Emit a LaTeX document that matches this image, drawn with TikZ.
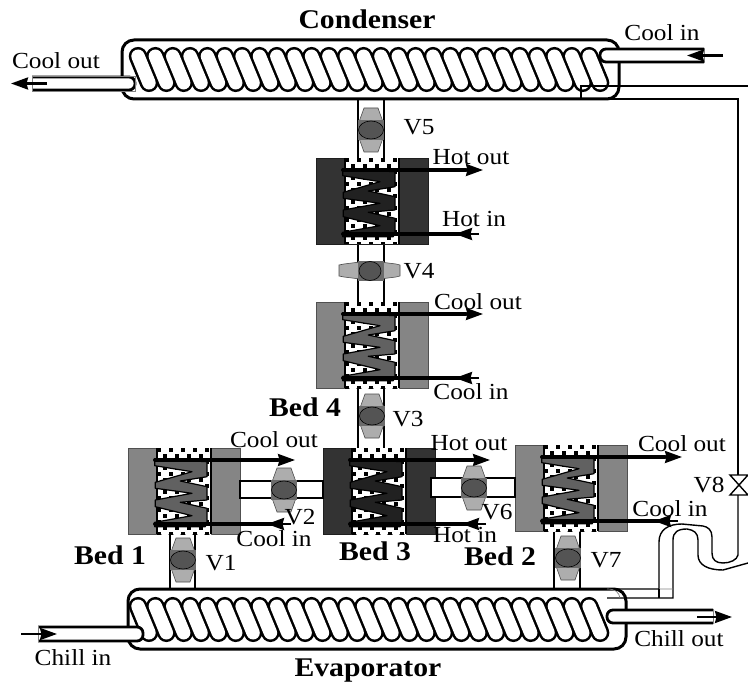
\documentclass[tikz,border=0pt]{standalone}
\usepackage{fontspec}
\setmainfont{Liberation Serif}[FakeStretch=1.1]
\usetikzlibrary{arrows.meta,positioning,calc}
\definecolor{cshelldark}{gray}{0.2}
\definecolor{cshellgrey}{gray}{0.52}
\definecolor{cfindark}{gray}{0.13}
\definecolor{cfingrey}{gray}{0.38}
\definecolor{cwing}{gray}{0.68}
\definecolor{cseat}{gray}{0.42}
\definecolor{cball}{gray}{0.33}
\tikzset{
  lbl/.style={inner sep=0pt, font=\fontsize{23}{23}\selectfont},
  blbl/.style={inner sep=0pt, font=\fontsize{27}{27}\selectfont\bfseries},
  shellbox/.style={draw=black, line width=3pt, rounded corners=12pt},
  pipewall/.style={draw=black, line width=2.8pt},
  thinpipe/.style={draw=black, line width=1.4pt},
  tubewall/.style={draw=black, fill=white, line width=2.8pt, rounded corners=6pt},
  flowtip/.style={-{Stealth[length=17pt,width=12pt,inset=1.5pt]}, line width=2.4pt},
}
% one heat exchanger bed, origin at its upper left corner
\newcommand{\drawbed}[4]{%
  \begin{scope}[shift={(#1,#2)}]
    \fill[#3] (0,0) rectangle (112,86);
    \draw[#3!60!black, line width=0.8pt] (0,0) rectangle (112,86);
    \fill[white] (29,0) rectangle (83,86);
    \begin{scope}
      \clip (29,0) rectangle (83,86);
      \foreach \r in {0,...,14}{
        \foreach \c in {0,...,9}{
          \pgfmathtruncatemacro{\odd}{mod(\r+\c,2)}
          \ifnum\odd=0
            \fill[black] ({29+\c*6},{\r*6}) rectangle ++(4.4,4.4);
          \else
            \fill[white] ({31+\c*6},{2+\r*6}) circle (3.6);
          \fi
        }
      }
    \end{scope}
    \draw[black, line width=1.2pt] (29,0) -- (29,86) (83,0) -- (83,86);
    \draw[draw=black, line width=1.2pt, fill=#4, line join=round] (26.7,11) -- (79,13.7) -- (79,28.7) -- (52.3,33) -- (79,38.7)
      -- (79,52) -- (52.3,54.3) -- (79,60.3) -- (79,73.7) -- (77.3,78.7) -- (26.7,78.7) -- (26.7,74.3)
      -- (64,67.7) -- (27.3,58.7) -- (27.3,52) -- (64,45.3) -- (27.3,40.3) -- (27.3,34.3) -- (64,23.7) -- (26.7,17.7) -- cycle;
    \draw[black, line width=4pt, line cap=round] (27,12) -- (150,12);
    \draw[flowtip] (140,12) -- (167,12);
    \draw[black, line width=4pt, line cap=round] (27,76) -- (148,76);
    \draw[flowtip] (163,76) -- (139,76);
  \end{scope}}
% coil inside a shell, x0 is the first turn and y0 the top of the turns
\newcommand{\drawcoil}[2]{%
  \foreach \i in {0,...,26}{
    \draw[black, line width=18.5pt, line cap=round] ({#1+8+\i*17.35},{#2+9.2}) -- ({#1+19+\i*17.35},{#2+35.8});
  }
  \foreach \i in {0,...,26}{
    \draw[white, line width=13.4pt, line cap=round] ({#1+8+\i*17.35},{#2+9.2}) -- ({#1+19+\i*17.35},{#2+35.8});
  }}
% valve body with hexagonal wings
\newcommand{\drawvalve}[3]{%
  \begin{scope}[shift={(#1,#2)}, rotate=#3]
    \draw[cseat!70!black, line width=0.6pt, fill=cwing] (-7,-22) -- (7,-22) -- (12,-8) -- (12,8) -- (7,22) -- (-7,22) -- (-12,8) -- (-12,-8) -- cycle;
    \fill[cseat] (-13,-10) rectangle (13,10);
    \draw[black, line width=0.6pt, fill=cball] (0,0) ellipse (12.5 and 9);
  \end{scope}}
\begin{document}
\begin{tikzpicture}[x=1pt,y=-1pt]
  \useasboundingbox (0,0) rectangle (748,682);
  % pipes between the units
  \draw[pipewall] (358,99) -- (358,158) (384,99) -- (384,158);
  \draw[pipewall] (358,244) -- (358,302) (384,244) -- (384,302);
  \draw[pipewall] (358,388) -- (358,448) (384,388) -- (384,448);
  \draw[pipewall] (170,534) -- (170,589) (195,534) -- (195,589);
  \draw[pipewall] (554,531) -- (554,589) (580,531) -- (580,589);
  % beds
  \drawbed{316}{158}{cshelldark}{cfindark}
  \drawbed{316}{302}{cshellgrey}{cfingrey}
  \drawbed{128}{448}{cshellgrey}{cfingrey}
  \drawbed{323}{448}{cshelldark}{cfindark}
  \drawbed{515}{445}{cshellgrey}{cfingrey}
  % side pipes
  \draw[pipewall, fill=white] (240,481) rectangle (323,498);
  \draw[pipewall, fill=white] (431,478) rectangle (515,497);
  % condenser and evaporator
  \draw[shellbox] (122,40) rectangle (619,99);
  \drawcoil{130}{47}
  \draw[shellbox] (128,589) rectangle (626,649);
  \drawcoil{130}{597}
  % tubes
  \draw[tubewall] (32,77) -- (135,77) -- (135,90) -- (32,90);
  \draw[gray, line width=0.7pt] (32,76) rectangle (135,91);
  \draw[flowtip] (47,83.5) -- (11,83.5);
  \draw[tubewall] (704,49) -- (600,49) -- (600,62) -- (704,62);
  \draw[gray, line width=0.7pt] (704,48) -- (704,63);
  \draw[flowtip] (723,55.5) -- (687,55.5);
  \draw[tubewall] (38,627) -- (143,627) -- (143,641) -- (38,641);
  \draw[gray, line width=0.7pt] (38,626) -- (38,642);
  \draw[flowtip] (21,634) -- (57,634);
  \draw[tubewall] (713,610) -- (607,610) -- (607,623) -- (713,623);
  \draw[gray, line width=0.7pt] (713,609) -- (713,624);
  \draw[flowtip] (697,617) -- (732,617);
  % refrigerant line with V8
  \draw[thinpipe] (581,99) -- (581,86) -- (748,86);
  \draw[thinpipe] (581,99) -- (738,99) -- (738,475);
  \draw[thinpipe] (730,475) -- (748,475) -- (730,495) -- (748,495) -- cycle;
  \draw[thinpipe] (738,495) -- (738,555) .. controls (737,560) and (730,563) .. (723,563)
    .. controls (716,563) and (712,560) .. (712,553) -- (712,537)
    .. controls (712,530) and (708,527) .. (703,526) -- (682,524)
    .. controls (668,524) and (659,530) .. (659,542) -- (659,589) -- (607,589);
  \draw[thinpipe] (748,563) -- (723,570)
    .. controls (708,570) and (698,565) .. (698,555) -- (698,540)
    .. controls (698,533) and (694,530) .. (687,529)
    .. controls (678,529) and (673,532) .. (673,540) -- (673,598) -- (607,598);
  \draw[gray, line width=0.7pt] (659,589) -- (673,589) (607,589) .. controls (615,589) and (619,592) .. (620,598);
  \draw[thinpipe] (659,589) -- (659,598);
  % valves
  \drawvalve{371}{130}{0}
  \drawvalve{372}{416}{0}
  \drawvalve{183}{560}{0}
  \drawvalve{284}{490}{0}
  \drawvalve{474}{488}{0}
  \drawvalve{568}{558}{0}
  \draw[cseat!70!black, line width=0.6pt, fill=cwing] (339,265) -- (344,264) -- (360,262) -- (380,262) -- (396,264) -- (400,265) -- (400,276) -- (396,277) -- (380,279) -- (360,279) -- (344,277) -- (339,276) -- cycle;
  \fill[cseat] (358,261) rectangle (384,281);
  \draw[black, line width=0.6pt, fill=cball] (370,271) ellipse (11 and 9.5);
  % labels
  \node[blbl] (condenser) at (367,19) {Condenser};
  \node[blbl] (evaporator) at (368,671) {Evaporator};
  \node[blbl] (bedone) at (110,555) {Bed 1};
  \node[blbl] (bedtwo) at (500,556) {Bed 2};
  \node[blbl] (bedthree) at (375,551) {Bed 3};
  \node[blbl] (bedfour) at (305,407) {Bed 4};
  \node[lbl] (coolouttop) at (56,61) {Cool out};
  \node[lbl] (coolintop) at (662,33) {Cool in};
  \node[lbl] (hotouttop) at (471,157) {Hot out};
  \node[lbl] (hotintop) at (474,219) {Hot in};
  \node[lbl] (cooloutfour) at (478,302) {Cool out};
  \node[lbl] (coolinfour) at (471,392) {Cool in};
  \node[lbl] (cooloutone) at (274,440) {Cool out};
  \node[lbl] (coolinone) at (274,539) {Cool in};
  \node[lbl] (hotoutthree) at (469,443) {Hot out};
  \node[lbl] (hotinthree) at (465,535) {Hot in};
  \node[lbl] (coolouttwo) at (682,444) {Cool out};
  \node[lbl] (coolintwo) at (670,509) {Cool in};
  \node[lbl] (chillin) at (73,658) {Chill in};
  \node[lbl] (chillout) at (679,639) {Chill out};
  \node[lbl] (vone) at (221,563) {V1};
  \node[lbl] (vtwo) at (300,517) {V2};
  \node[lbl] (vthree) at (408,419) {V3};
  \node[lbl] (vfour) at (419,271) {V4};
  \node[lbl] (vfive) at (419,127) {V5};
  \node[lbl] (vsix) at (497,512) {V6};
  \node[lbl] (vseven) at (606,560) {V7};
  \node[lbl] (veight) at (709,485) {V8};
\end{tikzpicture}
\end{document}
